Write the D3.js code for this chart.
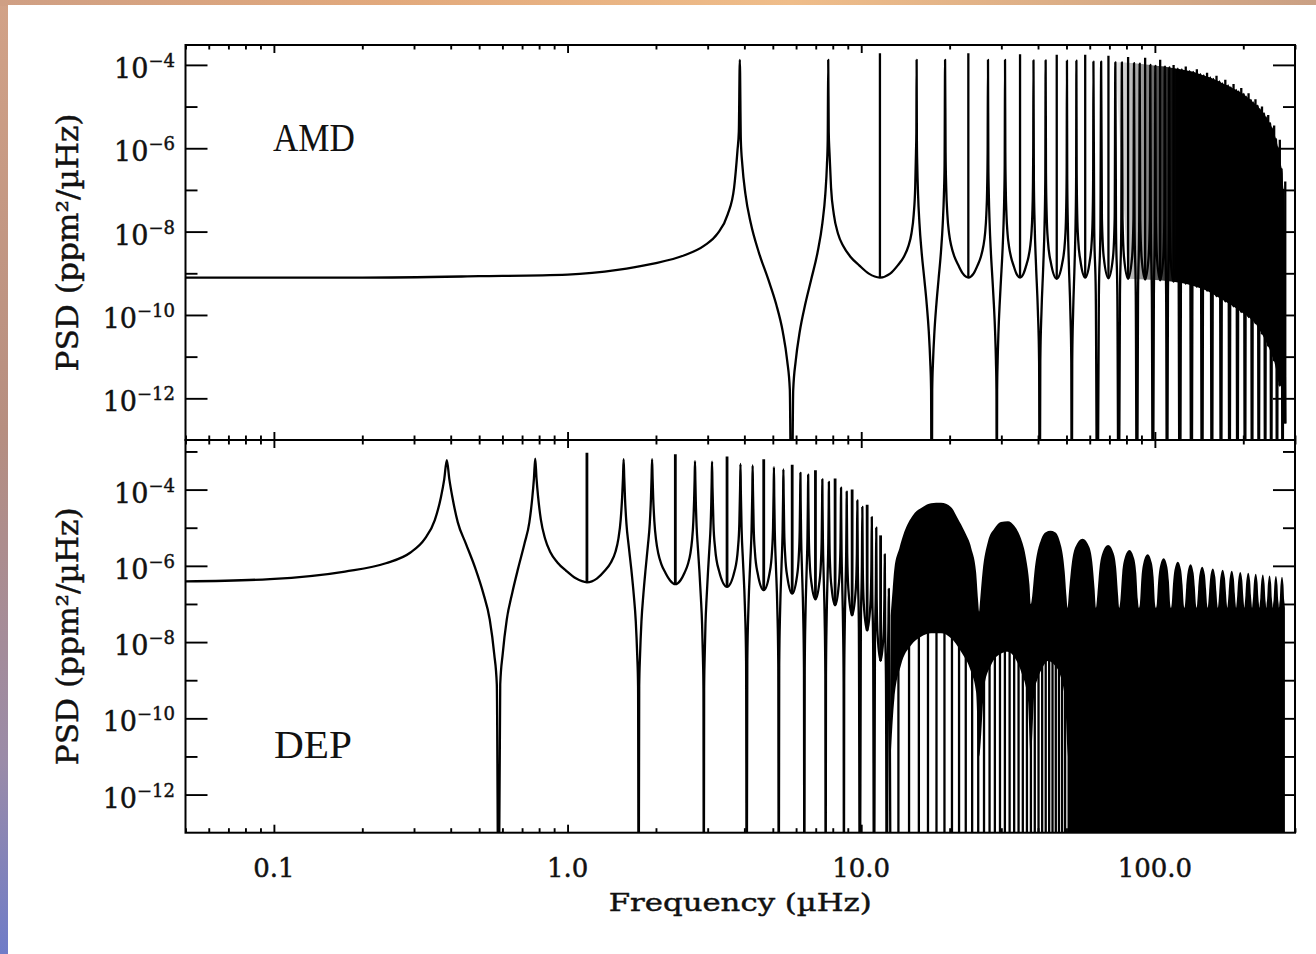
<!DOCTYPE html>
<html><head><meta charset="utf-8"><title>PSD AMD DEP</title>
<script src="https://cdn.jsdelivr.net/npm/d3@7"></script>
<style>html,body{margin:0;padding:0;background:#fff;}svg{display:block}</style>
</head><body><svg id="chart" width="1316" height="954"></svg>
<script>
// ---------------- DATA ----------------
const xTickValues = [0.1, 1, 10, 100];
const xTickLabels = ["0.1", "1.0", "10.0", "100.0"];
const yMajorExponents = [-4, -6, -8, -10, -12];
const panelNames = ["AMD", "DEP"];
const xTitle = "Frequency (µHz)";
const yTitle = "PSD (ppm²/µHz)";

// AMD spectrum: [frequency µHz, PSD]
const amdCurve = [
[0.05,7.9e-10],[0.2,7.9e-10],[0.5,8.5e-10],[1.0,9.3e-10],[1.48,1.2e-9],[1.92,1.66e-9],[2.5,2.7e-9],[2.92,4.6e-9],[3.24,8.9e-9],[3.51,2.6e-8],[3.69,1.12e-7],[3.79,8.9e-7],[3.83,2.5e-6],[3.86,1.32e-4],
[3.891,1.58e-6],[3.937,4.0e-7],[4.034,7.9e-8],[4.207,1.58e-8],[4.478,3.2e-9],[4.825,7.1e-10],[5.134,1.8e-10],[5.404,4.0e-11],[5.597,7.9e-12],[5.713,1.6e-12],[5.79,1e-16],[5.867,1.6e-12],[5.983,7.9e-12],[6.176,4.0e-11],[6.446,1.8e-10],[6.755,7.1e-10],[7.102,3.2e-9],[7.373,1.58e-8],[7.546,7.9e-8],[7.643,4.0e-7],[7.689,1.58e-6],[7.72,1.32e-4],
[7.751,2.5e-6],[7.797,7.9e-7],[7.894,1.12e-7],[8.067,2.6e-8],[8.338,8.9e-9],[8.685,4.5e-9],[9.187,2.5e-9],[9.843,1.55e-9],[10.615,9.8e-10],[11.58,7.9e-10],[12.545,9.8e-10],[13.317,1.55e-9],[13.973,2.5e-9],[14.475,4.5e-9],[14.822,8.9e-9],[15.093,2.6e-8],[15.266,1.12e-7],[15.363,7.9e-7],[15.409,2.5e-6],[15.44,1.32e-4],
[15.471,1.58e-6],[15.517,4.0e-7],[15.614,7.9e-8],[15.787,1.58e-8],[16.058,3.2e-9],[16.405,7.1e-10],[16.714,1.8e-10],[16.984,4.0e-11],[17.177,7.9e-12],[17.293,1.6e-12],[17.37,1e-16],[17.447,1.6e-12],[17.563,7.9e-12],[17.756,4.0e-11],[18.026,1.8e-10],[18.335,7.1e-10],[18.682,3.2e-9],[18.953,1.58e-8],[19.126,7.9e-8],[19.223,4.0e-7],[19.30,1.32e-4],
[19.377,7.9e-7],[19.474,1.12e-7],[19.647,2.6e-8],[19.918,8.9e-9],[20.265,4.5e-9],[20.767,2.5e-9],[21.423,1.55e-9],[22.195,9.8e-10],[23.16,7.9e-10],[24.125,9.8e-10],[24.897,1.55e-9],[25.553,2.5e-9],[26.055,4.5e-9],[26.402,8.9e-9],[26.673,2.6e-8],[26.846,1.12e-7],[26.943,7.9e-7],[27.02,1.32e-4],
[27.097,4.0e-7],[27.194,7.9e-8],[27.367,1.58e-8],[27.638,3.2e-9],[27.985,7.1e-10],[28.294,1.8e-10],[28.564,4.0e-11],[28.757,7.9e-12],[28.873,1.6e-12],[28.95,1e-16],[29.027,1.6e-12],[29.143,7.9e-12],[29.336,4.0e-11],[29.606,1.8e-10],[29.915,7.1e-10],[30.262,3.2e-9],[30.533,1.58e-8],[30.706,7.9e-8],[30.803,4.0e-7],[30.88,1.32e-4],
[30.957,7.9e-7],[31.054,1.12e-7],[31.227,2.6e-8],[31.498,8.9e-9],[31.845,4.5e-9],[32.347,2.5e-9],[33.003,1.55e-9],[33.775,9.8e-10],[34.74,7.9e-10],[35.705,9.8e-10],[36.477,1.55e-9],[37.133,2.5e-9],[37.635,4.5e-9],[37.982,8.9e-9],[38.253,2.6e-8],[38.426,1.12e-7],[38.523,7.9e-7],[38.60,1.29e-4],
[38.716,1.8e-7],[38.947,1.58e-8],[39.372,1.58e-9],[39.951,1.26e-10],[40.337,7.9e-12],[40.53,1e-16],[40.723,7.9e-12],[41.109,1.26e-10],[41.688,1.58e-9],[42.113,1.58e-8],[42.344,1.8e-7],[42.46,1.29e-4],
[42.576,2.6e-7],[42.807,2.5e-8],[43.232,5.9e-9],[44.197,1.86e-9],[46.32,7.4e-10],[48.443,1.86e-9],[49.408,5.9e-9],[49.833,2.5e-8],[50.064,2.6e-7],[50.18,1.26e-4],
[50.296,1.8e-7],[50.527,1.58e-8],[50.952,1.58e-9],[51.531,1.26e-10],[51.917,7.9e-12],[52.11,1e-16],[52.303,7.9e-12],[52.689,1.26e-10],[53.268,1.58e-9],[53.693,1.58e-8],[53.924,1.8e-7],[54.04,1.26e-4],
[54.156,2.8e-7],[54.387,2.6e-8],[54.812,6.3e-9],[55.777,2.0e-9],[57.90,7.9e-10],[60.023,2.0e-9],[60.988,6.3e-9],[61.413,2.6e-8],[61.644,2.8e-7],[61.76,1.2e-4],
[62.146,1.2e-8],[62.918,3.0e-10],[63.69,1e-16],[64.462,3.0e-10],[65.234,1.2e-8],[65.62,1.2e-4],
[66.006,2.1e-8],[66.971,2.4e-9],[69.48,7.6e-10],[71.989,2.4e-9],[72.954,2.1e-8],[73.34,1.15e-4],
[73.726,1.2e-8],[74.498,3.0e-10],[75.27,1e-16],[76.042,3.0e-10],[76.814,1.2e-8],[77.20,1.15e-4],
[77.586,2.0e-8],[78.551,2.3e-9],[81.06,7.4e-10],[83.569,2.3e-9],[84.534,2.0e-8],[84.92,1.1e-4],
[85.306,1.2e-8],[86.078,3.0e-10],[86.85,1e-16],[87.622,3.0e-10],[88.394,1.2e-8],[88.78,1.07e-4],
[89.166,2.0e-8],[90.131,2.3e-9],[92.64,7.1e-10],[95.149,2.3e-9],[96.114,2.0e-8],[96.50,1.0e-4],
[96.886,1.1e-8],[97.658,2.8e-10],[98.43,1e-16],[99.202,2.8e-10],[99.974,1.1e-8],[100.36,9.5e-5],
[100.746,1.9e-8],[101.711,2.2e-9],[104.22,6.8e-10],[106.729,2.2e-9],[107.694,1.9e-8],[108.08,9.1e-5],
[108.466,1.1e-8],[109.238,2.7e-10],[110.01,1e-16],[110.782,2.7e-10],[111.554,1.1e-8],[111.94,8.7e-5],
[112.326,1.8e-8],[113.291,2.0e-9],[115.80,6.3e-10],[118.309,2.0e-9],[119.274,1.8e-8],[119.66,8.1e-5],
[121.59,1e-16],[123.52,7.8e-5],[127.38,5.6e-10],[131.24,7.1e-5],[133.17,1e-16],[135.10,6.8e-5],[138.96,4.7e-10],[142.82,6.0e-5],[144.75,1e-16],[146.68,5.6e-5],[150.54,3.8e-10],[154.40,5.0e-5],[156.33,1e-16],[158.26,4.6e-5],[162.12,2.8e-10],[165.98,4.0e-5],[167.91,1e-16],[169.84,3.6e-5],[173.70,2.1e-10],[177.56,3.2e-5],[179.49,1e-16],[181.42,2.9e-5],[185.28,1.6e-10],[189.14,2.5e-5],[191.07,1e-16],[193.00,2.3e-5],[196.86,1.17e-10],[200.72,2.0e-5],[202.65,1e-16],[204.58,1.74e-5],[208.44,8.9e-11],[212.30,1.45e-5],[214.23,1e-16],[216.16,1.26e-5],[220.02,6.3e-11],[223.88,1.05e-5],[225.81,1e-16],[227.74,8.7e-6],[231.60,3.5e-11],[235.46,6.9e-6],[237.39,1e-16],[239.32,5.5e-6],[243.18,1.8e-11],[247.04,4.0e-6],[248.97,1e-16],[250.90,3.0e-6],[254.76,7.9e-12],[258.62,1.66e-6],[260.55,1e-16],[262.48,1.05e-6],[266.34,2.0e-12],[270.20,3.2e-7],[272.13,1e-16],[274.06,1.0e-7],[277.92,2.5e-13]
];
// AMD narrow spikes: [frequency, valley PSD, spike top PSD]
const amdSpikes = [
[11.58,7.9e-10,1.9e-4],[23.16,7.9e-10,1.9e-4],[34.74,7.9e-10,1.8e-4],[46.32,7.4e-10,1.74e-4],[57.90,7.9e-10,1.74e-4],[69.48,7.6e-10,1.66e-4],[81.06,7.4e-10,1.55e-4],[92.64,7.1e-10,1.48e-4],[104.22,6.8e-10,1.32e-4],[115.80,6.3e-10,1.0e-4],[127.38,5.6e-10,9.1e-5],[138.96,4.7e-10,7.9e-5],[150.54,3.8e-10,6.5e-5],[162.12,2.8e-10,5.5e-5],[173.70,2.1e-10,4.4e-5],[185.28,1.6e-10,3.5e-5],[196.86,1.17e-10,2.8e-5],[208.44,8.9e-11,2.1e-5],[220.02,6.3e-11,1.5e-5],[231.60,3.5e-11,1.0e-5],[243.18,1.8e-11,6.3e-6],[254.76,7.9e-12,3.5e-6],[266.34,2.0e-12,1.6e-6],[277.92,2.5e-13,1.6e-7]
];

// DEP spectrum, resolved part: [frequency µHz, PSD]
const depCurve = [
[0.05,3.9e-7],[0.097,4.5e-7],[0.1746,7.1e-7],[0.2406,1.17e-6],[0.291,2.2e-6],[0.3259,5.0e-6],[0.3531,1.58e-5],[0.3705,6.3e-5],[0.3802,1.86e-4],[0.388,5.9e-4],
[0.3958,1.86e-4],[0.4055,6.2e-5],[0.4229,1.38e-5],[0.4501,3.9e-6],[0.485,8.7e-7],[0.516,1.95e-7],[0.5432,3.9e-8],[0.5626,4.9e-9],[0.5742,7.8e-10],[0.582,1e-16],[0.5898,7.8e-10],[0.6014,4.9e-9],[0.6208,3.9e-8],[0.648,1.95e-7],[0.679,8.7e-7],[0.7139,3.9e-6],[0.7411,1.38e-5],[0.7585,6.2e-5],[0.7682,1.95e-4],[0.776,6.5e-4],
[0.7838,2.0e-4],[0.7935,6.6e-5],[0.8109,1.66e-5],[0.8381,5.2e-6],[0.873,2.3e-6],[0.9234,1.23e-6],[0.9894,7.4e-7],[1.067,4.7e-7],[1.164,3.7e-7],[1.261,4.7e-7],[1.3386,7.4e-7],[1.4046,1.23e-6],[1.455,2.3e-6],[1.4899,5.2e-6],[1.5171,1.66e-5],[1.5345,6.6e-5],[1.5442,2.0e-4],[1.552,6.3e-4],
[1.5598,2.0e-4],[1.5695,5.6e-5],[1.5869,1.26e-5],[1.6141,3.5e-6],[1.649,7.9e-7],[1.680,1.78e-7],[1.7072,3.5e-8],[1.7266,4.5e-9],[1.7382,7.1e-10],[1.746,1e-16],[1.7538,7.1e-10],[1.7654,4.5e-9],[1.7848,3.5e-8],[1.812,1.78e-7],[1.843,7.9e-7],[1.8779,3.5e-6],[1.9051,1.26e-5],[1.9225,5.6e-5],[1.9322,2.0e-4],[1.94,6.3e-4],
[1.9478,2.0e-4],[1.9575,5.9e-5],[1.9749,1.48e-5],[2.0021,4.7e-6],[2.037,2.1e-6],[2.0874,1.1e-6],[2.1534,6.6e-7],[2.231,4.2e-7],[2.328,3.3e-7],[2.425,4.2e-7],[2.5026,6.6e-7],[2.5686,1.1e-6],[2.619,2.1e-6],[2.6539,4.7e-6],[2.6811,1.48e-5],[2.6985,5.9e-5],[2.7082,1.78e-4],[2.716,5.6e-4],
[2.7238,1.74e-4],[2.7335,4.8e-5],[2.7509,1.07e-5],[2.7781,3.0e-6],[2.813,6.8e-7],[2.844,1.5e-7],[2.8712,3.0e-8],[2.8906,3.8e-9],[2.9022,6.0e-10],[2.91,1e-16],[2.9178,6.0e-10],[2.9294,3.8e-9],[2.9488,3.0e-8],[2.976,1.5e-7],[3.007,6.8e-7],[3.0419,3.0e-6],[3.0691,1.07e-5],[3.0865,4.8e-5],[3.0962,1.7e-4],[3.104,5.4e-4],
[3.1156,1.12e-4],[3.1389,1.26e-5],[3.1816,2.8e-6],[3.2786,7.4e-7],[3.492,2.8e-7],[3.7054,7.4e-7],[3.8024,2.8e-6],[3.8451,1.26e-5],[3.8684,1.12e-4],[3.88,4.7e-4],
[3.8916,8.1e-5],[3.9149,9.1e-6],[3.9576,1.29e-6],[4.0158,9.1e-8],[4.0546,3.2e-9],[4.074,1e-16],[4.0934,3.2e-9],[4.1322,9.1e-8],[4.1904,1.29e-6],[4.2331,9.1e-6],[4.2564,8.1e-5],[4.268,4.3e-4],
[4.2796,9.3e-5],[4.3029,1.05e-5],[4.3456,2.3e-6],[4.4426,6.2e-7],[4.656,2.3e-7],[4.8694,6.2e-7],[4.9664,2.3e-6],[5.0091,1.05e-5],[5.0324,9.3e-5],[5.044,3.9e-4],
[5.0556,6.6e-5],[5.0789,7.4e-6],[5.1216,1.05e-6],[5.1798,7.4e-8],[5.2186,2.6e-9],[5.238,1e-16],[5.2574,2.6e-9],[5.2962,7.4e-8],[5.3544,1.05e-6],[5.3971,7.4e-6],[5.4204,6.6e-5],[5.432,3.4e-4],
[5.4436,7.4e-5],[5.4669,8.3e-6],[5.5096,1.86e-6],[5.6066,4.9e-7],[5.82,1.86e-7],[6.0334,4.9e-7],[6.1304,1.86e-6],[6.1731,8.3e-6],[6.1964,7.4e-5],[6.208,2.75e-4],
[6.2196,5.0e-5],[6.2429,5.6e-6],[6.2856,7.9e-7],[6.3438,5.6e-8],[6.3826,2.0e-9],[6.402,1e-16],[6.4214,2.0e-9],[6.4602,5.6e-8],[6.5184,7.9e-7],[6.5611,5.6e-6],[6.5844,5.0e-5],[6.596,2.45e-4],
[6.6076,5.2e-5],[6.6309,5.9e-6],[6.6736,1.32e-6],[6.7706,3.5e-7],[6.984,1.32e-7],[7.1974,3.5e-7],[7.2944,1.32e-6],[7.3371,5.9e-6],[7.3604,5.2e-5],[7.372,1.86e-4],
[7.3836,3.5e-5],[7.4069,4.0e-6],[7.4496,5.6e-7],[7.5078,4.0e-8],[7.5466,1.41e-9],[7.566,1e-16],[7.5854,1.41e-9],[7.6242,4.0e-8],[7.6824,5.6e-7],[7.7251,4.0e-6],[7.7484,3.5e-5],[7.76,1.58e-4],
[7.7716,3.7e-5],[7.7949,4.2e-6],[7.8376,9.3e-7],[7.9346,2.5e-7],[8.148,9.3e-8],[8.3614,2.5e-7],[8.4584,9.3e-7],[8.5011,4.2e-6],[8.5244,3.7e-5],[8.536,1.12e-4],
[8.5476,2.2e-5],[8.5709,2.5e-6],[8.6136,3.5e-7],[8.6718,2.5e-8],[8.7106,8.9e-10],[8.73,1e-16],[8.7494,8.9e-10],[8.7882,2.5e-8],[8.8464,3.5e-7],[8.8891,2.5e-6],[8.9124,2.2e-5],[8.924,8.9e-5],
[8.9589,2.2e-6],[9.0404,2.5e-7],[9.312,5.0e-8],[9.5836,2.5e-7],[9.6651,2.2e-6],[9.70,5.2e-5],
[9.7349,1.12e-6],[9.8164,2.5e-8],[9.894,1e-16],[9.9716,2.5e-8],[10.0531,1.12e-6],[10.088,3.5e-5],
[10.1229,8.9e-7],[10.2044,1.0e-7],[10.476,2.0e-8],[10.7476,1.0e-7],[10.8291,8.9e-7],[10.864,1.9e-5],
[10.8989,3.5e-7],[10.9804,7.9e-9],[11.058,1e-16],[11.1356,7.9e-9],[11.2171,3.5e-7],[11.252,1.0e-5],
[11.2869,1.41e-7],[11.3684,1.58e-8],[11.64,3.2e-9],[11.9116,1.58e-8],[11.9931,1.41e-7],[12.028,2.0e-6],
[12.0629,3.5e-8],[12.1444,7.9e-10],[12.222,1e-16],[12.2996,7.9e-10],[12.3811,3.5e-8],[12.416,2.5e-7],[12.5,1e-9],[12.6,1e-16]
];
const depSpikes = [
[1.164,3.7e-7,9.3e-4],[2.328,3.3e-7,8.5e-4],[3.492,2.8e-7,7.4e-4],[4.656,2.3e-7,6.3e-4],[5.82,1.86e-7,4.5e-4],[6.984,1.32e-7,3.2e-4],[8.148,9.3e-8,1.95e-4],[9.312,5.0e-8,1.0e-4],[10.476,2.0e-8,4.0e-5],[11.64,3.2e-9,6.3e-6]
];
// DEP unresolved part: upper envelope of the dense peaks
const depUpper = [
[12.6,5.0e-8],[12.8,2.5e-7],[12.97,8.5e-7],[13.49,2.9e-6],[14.03,7.9e-6],[14.98,2.1e-5],[16.2,3.5e-5],[17.3,4.4e-5],[18.7,4.5e-5],[20.2,3.5e-5],[21.3,1.78e-5],[22.5,7.9e-6],[23.7,2.9e-6],[24.6,7.1e-7],[25.0,1.26e-7],[25.2,6.3e-8],
[25.4,1.26e-7],[25.9,7.1e-7],[27.0,4.3e-6],[28.4,9.5e-6],[29.9,1.41e-5],[31.6,1.48e-5],[33.2,1.12e-5],[35.0,5.2e-6],[36.4,1.58e-6],[37.4,3.2e-7],[37.8,1.0e-7],
[38.2,1.58e-7],[38.9,7.1e-7],[41.0,5.0e-6],[42.5,7.6e-6],[44.1,8.3e-6],[45.7,7.6e-6],[47.2,5.0e-6],[49.3,7.1e-7],[50.0,1.58e-7],[50.4,7.9e-8],
[51.1,2.6e-7],[52.2,1.29e-6],[53.6,3.1e-6],[56.7,5.1e-6],[59.8,3.1e-6],[61.2,1.29e-6],[62.3,2.6e-7],[63.0,7.9e-8],
[63.7,1.78e-7],[64.8,8.9e-7],[66.2,2.1e-6],[69.3,3.5e-6],[72.4,2.1e-6],[73.8,8.9e-7],[74.9,1.78e-7],[75.6,7.9e-8],
[76.3,1.29e-7],[77.4,6.5e-7],[78.8,1.55e-6],[81.9,2.6e-6],[85.0,1.55e-6],[86.4,6.5e-7],[87.5,1.29e-7],[88.2,7.9e-8],
[88.9,1.0e-7],[90.0,5.0e-7],[91.4,1.2e-6],[94.5,2.0e-6],[97.6,1.2e-6],[99.0,5.0e-7],[100.1,1.0e-7],[100.8,7.9e-8],
[101.5,1.0e-7],[102.6,4.0e-7],[104.0,9.5e-7],[107.1,1.58e-6],[110.2,9.5e-7],[111.6,4.0e-7],[112.7,1.0e-7],[113.4,7.9e-8],
[114.1,1.0e-7],[115.2,3.2e-7],[116.6,7.8e-7],[119.7,1.29e-6],[122.8,7.8e-7],[124.2,3.2e-7],[125.3,1.0e-7],[126.0,7.9e-8],
[126.7,1.0e-7],[127.8,2.75e-7],[129.2,6.6e-7],[132.3,1.1e-6],[135.4,6.6e-7],[136.8,2.75e-7],[137.9,1.0e-7],[138.6,7.9e-8],
[139.3,1.0e-7],[140.4,2.4e-7],[141.8,5.8e-7],[144.9,9.5e-7],[148.0,5.8e-7],[149.4,2.4e-7],[150.5,1.0e-7],[151.2,7.9e-8],
[151.9,1.0e-7],[153.0,2.1e-7],[154.4,5.1e-7],[157.5,8.5e-7],[160.6,5.1e-7],[162.0,2.1e-7],[163.1,1.0e-7],[163.8,7.9e-8],
[164.5,1.0e-7],[165.6,2.0e-7],[167.0,4.8e-7],[170.1,7.9e-7],[173.2,4.8e-7],[174.6,2.0e-7],[175.7,1.0e-7],[176.4,7.9e-8],
[177.1,1.0e-7],[178.2,1.86e-7],[179.6,4.5e-7],[182.7,7.4e-7],[185.8,4.5e-7],[187.2,1.86e-7],[188.3,1.0e-7],[189.0,7.9e-8],
[189.7,1.0e-7],[190.8,1.74e-7],[192.2,4.2e-7],[195.3,6.9e-7],[198.4,4.2e-7],[199.8,1.74e-7],[200.9,1.0e-7],[201.6,7.9e-8],
[202.3,1.0e-7],[203.4,1.66e-7],[204.8,4.0e-7],[207.9,6.6e-7],[211.0,4.0e-7],[212.4,1.66e-7],[213.5,1.0e-7],[214.2,7.9e-8],
[214.9,1.0e-7],[216.0,1.55e-7],[217.4,3.7e-7],[220.5,6.2e-7],[223.6,3.7e-7],[225.0,1.55e-7],[226.1,1.0e-7],[226.8,7.9e-8],
[227.5,1.0e-7],[228.6,1.48e-7],[230.0,3.5e-7],[233.1,5.9e-7],[236.2,3.5e-7],[237.6,1.48e-7],[238.7,1.0e-7],[239.4,7.9e-8],
[240.1,1.0e-7],[241.2,1.41e-7],[242.6,3.4e-7],[245.7,5.6e-7],[248.8,3.4e-7],[250.2,1.41e-7],[251.3,1.0e-7],[252.0,7.9e-8],
[252.7,1.0e-7],[253.8,1.35e-7],[255.2,3.2e-7],[258.3,5.4e-7],[261.4,3.2e-7],[262.8,1.35e-7],[263.9,1.0e-7],[264.6,7.9e-8],
[265.3,1.0e-7],[266.4,1.32e-7],[267.8,3.2e-7],[270.9,5.2e-7],[274.0,3.2e-7],[275.4,1.32e-7],[276.5,1.0e-7],[277.2,7.9e-8]
];
// DEP unresolved part: lower edge of the dense band where the gaps are still open
const depLower = [
[12.6,1e-11],[12.97,3.3e-10],[13.66,2.5e-9],[14.78,8.3e-9],[15.98,1.38e-8],[17.29,1.7e-8],[18.70,1.7e-8],[20.23,1.26e-8],[21.88,5.6e-9],[23.66,1.66e-9],[24.6,5.0e-10],[25.2,1e-11],
[26.28,7.4e-10],[27.69,2.5e-9],[29.95,5.0e-9],[31.56,5.6e-9],[33.25,4.0e-9],[35.04,1.66e-9],[36.93,3.3e-10],[37.8,1e-11],
[38.9,5.0e-10],[39.93,1.12e-9],[41.5,2.2e-9],[43.19,3.2e-9],[45.5,2.5e-9],[47.97,1.12e-9],[49.5,2.5e-10],[50.4,1e-11]
];
// DEP: frequencies of the zero dips that reach the bottom below the band
const depDips = [13.386,14.550,15.714,16.878,18.042,19.206,20.370,21.534,22.698,23.862,25.026,26.190,27.354,28.518,29.682,30.846,32.010,33.174,34.338,35.502,36.666,37.830,38.994,40.158,41.322,42.486,43.650,44.814,45.978,47.142,48.306,49.470];

// ---------------- LAYOUT ----------------
const W = 1316, H = 954;
const plotLeft = 185.5, plotRight = 1295;
const panelTop = [45, 440], panelBottom = [440, 832.7];
const LW = 2.3;
const svg = d3.select("#chart");
const x = d3.scaleLog().domain([0.05, 300]).range([plotLeft, plotRight]);
const yA = d3.scaleLog().domain([1e-13, 3e-4]).range([panelBottom[0], panelTop[0]]);
const yD = d3.scaleLog().domain([1e-13, 2e-3]).range([panelBottom[1], panelTop[1]]);
const yScales = [yA, yD];

// background (photo frame colours)
const defs = svg.append("defs");
const lg = defs.append("linearGradient").attr("id","leftStrip").attr("x1",0).attr("y1",0).attr("x2",0).attr("y2",1);
[[0,"#d2a287"],[0.45,"#b68e80"],[0.8,"#9a8ba8"],[1,"#6f7cc8"]].forEach(s=>lg.append("stop").attr("offset",s[0]).attr("stop-color",s[1]));
const tg = defs.append("linearGradient").attr("id","topStrip").attr("x1",0).attr("y1",0).attr("x2",1).attr("y2",0);
[[0,"#cf9f84"],[0.3,"#e2a97c"],[0.6,"#efbd8a"],[1,"#caa084"]].forEach(s=>tg.append("stop").attr("offset",s[0]).attr("stop-color",s[1]));
svg.append("rect").attr("width",W).attr("height",H).attr("fill","url(#leftStrip)");
svg.append("rect").attr("width",W).attr("height",6).attr("fill","url(#topStrip)");
svg.append("rect").attr("x",8).attr("y",5).attr("width",W-8).attr("height",H-5).attr("fill","#fff");

// fade-in of the merged band (where the peaks blur together)
const fade = defs.append("linearGradient").attr("id","fadeA").attr("gradientUnits","userSpaceOnUse")
  .attr("x1", x(70)).attr("y1",0).attr("x2", x(118)).attr("y2",0);
[[0,0],[0.55,0.45],[1,1]].forEach(s=>fade.append("stop").attr("offset",s[0]).attr("stop-color","#000").attr("stop-opacity",s[1]));

[0,1].forEach(i=>{
  defs.append("clipPath").attr("id","clip"+i).append("rect")
    .attr("x",plotLeft).attr("y",panelTop[i]).attr("width",plotRight-plotLeft).attr("height",panelBottom[i]-panelTop[i]);
});

const lineOf = (y, curve) => d3.line().x(d=>x(d[0])).y(d=>y(d[1])).curve(curve);

// envelope of the dense part, derived from the curve's own maxima/minima
function envelopes(curve, fmin){
  const up=[], lo=[];
  for(let i=1;i<curve.length-1;i++){
    const p=curve[i][1];
    if(curve[i][0]<fmin) continue;
    if(p>=curve[i-1][1] && p>=curve[i+1][1]) up.push(curve[i]);
    if(p<=curve[i-1][1] && p<=curve[i+1][1] && p>1e-15) lo.push(curve[i]);
  }
  return up.concat(lo.slice().reverse());
}

// ---- AMD panel ----
const gA = svg.append("g").attr("clip-path","url(#clip0)");
gA.append("path").attr("d", lineOf(yA, d3.curveLinearClosed)(envelopes(amdCurve,70))).attr("fill","url(#fadeA)");
gA.append("path").datum(amdCurve).attr("d", lineOf(yA, d3.curveMonotoneX))
  .attr("fill","none").attr("stroke","#000").attr("stroke-width",LW).attr("stroke-linejoin","round");
gA.selectAll("line.sp").data(amdSpikes).join("line").attr("class","sp")
  .attr("x1",d=>x(d[0])).attr("x2",d=>x(d[0])).attr("y1",d=>yA(d[1])).attr("y2",d=>yA(d[2]))
  .attr("stroke","#000").attr("stroke-width",LW);

// ---- DEP panel ----
const gD = svg.append("g").attr("clip-path","url(#clip1)");
gD.append("path").datum(depUpper)
  .attr("d", d3.area().x(d=>x(d[0])).y0(yD(1e-16)).y1(d=>yD(d[1])).curve(d3.curveMonotoneX))
  .attr("fill","#000");
gD.append("path").datum(depLower)
  .attr("d", d3.area().x(d=>x(d[0])).y0(yD(1e-16)).y1(d=>yD(d[1])).curve(d3.curveMonotoneX))
  .attr("fill","#fff");
gD.selectAll("line.dip").data(depDips).join("line").attr("class","dip")
  .attr("x1",d=>x(d)).attr("x2",d=>x(d)).attr("y1",yD(5e-8)).attr("y2",yD(1e-16))
  .attr("stroke","#000").attr("stroke-width",LW);
gD.append("path").datum(depCurve).attr("d", lineOf(yD, d3.curveMonotoneX))
  .attr("fill","none").attr("stroke","#000").attr("stroke-width",LW).attr("stroke-linejoin","round");
gD.selectAll("line.sp").data(depSpikes).join("line").attr("class","sp")
  .attr("x1",d=>x(d[0])).attr("x2",d=>x(d[0])).attr("y1",d=>yD(d[1])).attr("y2",d=>yD(d[2]))
  .attr("stroke","#000").attr("stroke-width",2.8);

// ---- axes ----
const FONT = "'DejaVu Serif', serif";
const isPow = v => Math.abs(Math.log10(v)-Math.round(Math.log10(v)))<1e-9;
const xAll = x.ticks();
const xMajor = xAll.filter(isPow), xMinor = xAll.filter(v=>!isPow(v));
function tickGroup(axisGen, tx, ty, values, size){
  svg.append("g").attr("transform",`translate(${tx},${ty})`)
    .call(axisGen.tickValues(values).tickSize(size).tickSizeOuter(0).tickFormat(""))
    .call(g=>g.select(".domain").remove())
    .selectAll("line").attr("stroke","#000").attr("stroke-width",1.9);
}
function label(sel){ return sel.attr("font-family",FONT).attr("fill","#111").attr("stroke","#111").attr("stroke-width",0.45); }
[0,1].forEach(i=>{
  const y = yScales[i], t = panelTop[i], b = panelBottom[i];
  tickGroup(d3.axisTop(x), 0, t, xMajor, -8);
  tickGroup(d3.axisTop(x), 0, t, xMinor, -4.5);
  tickGroup(d3.axisBottom(x), 0, b, xMajor, -8);
  tickGroup(d3.axisBottom(x), 0, b, xMinor, -4.5);
  const [lo, hi] = y.domain();
  const pw = d3.range(-13, 0).map(e=>Math.pow(10,e)).filter(v=>v>lo*1.0001 && v<hi);
  const yMaj = pw.filter(v=>Math.round(Math.log10(v))%2===0), yMin = pw.filter(v=>Math.round(Math.log10(v))%2!==0);
  tickGroup(d3.axisLeft(y), plotLeft, 0, yMaj, -22);
  tickGroup(d3.axisLeft(y), plotLeft, 0, yMin, -12);
  tickGroup(d3.axisRight(y), plotRight, 0, yMaj, -22);
  tickGroup(d3.axisRight(y), plotRight, 0, yMin, -12);
  svg.append("rect").attr("x",plotLeft).attr("y",t).attr("width",plotRight-plotLeft).attr("height",b-t)
    .attr("fill","none").attr("stroke","#000").attr("stroke-width",2);

  // y tick labels 10^e
  yMajorExponents.forEach(e=>{
    const v = Math.pow(10,e);
    if (v<=lo || v>=hi) return;
    const tx = label(svg.append("text")).attr("x",175).attr("y",y(v)+13).attr("text-anchor","end");
    tx.append("tspan").attr("font-size",27).text("10");
    tx.append("tspan").attr("font-size",18).attr("dy",-11).text("−"+Math.abs(e));
  });
  // y title
  label(svg.append("text")).attr("transform",`translate(78,${(t+b)/2}) rotate(-90)`)
    .attr("text-anchor","middle").attr("font-size",30)
    .attr("textLength",258).attr("lengthAdjust","spacingAndGlyphs").text(yTitle);
});

// x tick labels & title
xTickValues.forEach((v,i)=>{
  label(svg.append("text")).attr("x",x(v)).attr("y",877).attr("text-anchor","middle")
    .attr("font-size",26).text(xTickLabels[i]);
});
label(svg.append("text")).attr("x",(plotLeft+plotRight)/2).attr("y",911).attr("text-anchor","middle")
  .attr("font-size",25).attr("textLength",263).attr("lengthAdjust","spacingAndGlyphs").text(xTitle);

// panel names
svg.append("text").attr("x",273).attr("y",150.5).attr("font-family","'Liberation Serif', serif")
  .attr("font-size",41).attr("textLength",82).attr("lengthAdjust","spacingAndGlyphs").attr("fill","#111").text(panelNames[0]);
svg.append("text").attr("x",274).attr("y",758).attr("font-family","'Liberation Serif', serif")
  .attr("font-size",41).attr("textLength",78).attr("lengthAdjust","spacingAndGlyphs").attr("fill","#111").text(panelNames[1]);
</script>
</body></html>
